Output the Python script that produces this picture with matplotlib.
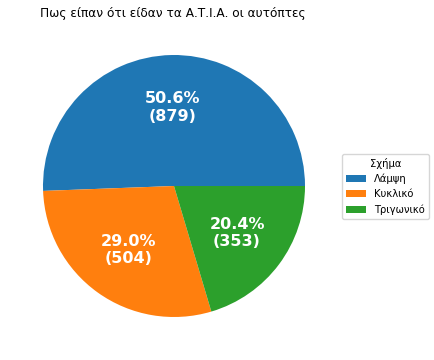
import matplotlib
matplotlib.use("Agg")
import matplotlib.pyplot as plt

# Data
shapes = ["Λάμψη", "Κυκλικό", "Τριγωνικό"]
shares = [50.6, 29.0, 20.4]
counts = [879, 504, 353]
colors = ["#1f77b4", "#ff7f0e", "#2ca02c"]

labels_iter = iter(counts)


def fmt(pct):
    return f"{pct:.1f}%\n({next(labels_iter)})"


fig = plt.figure(figsize=(4.35, 3.6), dpi=100)
ax = fig.add_axes([43 / 435, 43 / 360, 262 / 435, 262 / 360])

wedges, texts, autotexts = ax.pie(
    shares, colors=colors, autopct=fmt, pctdistance=0.6,
    textprops=dict(color="white", fontsize=11.5, fontweight="bold"))
ax.set_xlim(-1, 1)
ax.set_ylim(-1, 1)
ax.set_aspect("equal")

fig.text(173 / 435, 1 - 13 / 360, "Πως είπαν ότι είδαν τα Α.Τ.Ι.Α. οι αυτόπτες",
         ha="center", va="center", fontsize=8.7)

fig.legend(wedges, shapes, title="Σχήμα", loc="center left",
           bbox_to_anchor=(342 / 435, 1 - 186 / 360), fontsize=7.2,
           title_fontsize=7.2, borderaxespad=0)

fig.savefig("out.png", dpi=100)
